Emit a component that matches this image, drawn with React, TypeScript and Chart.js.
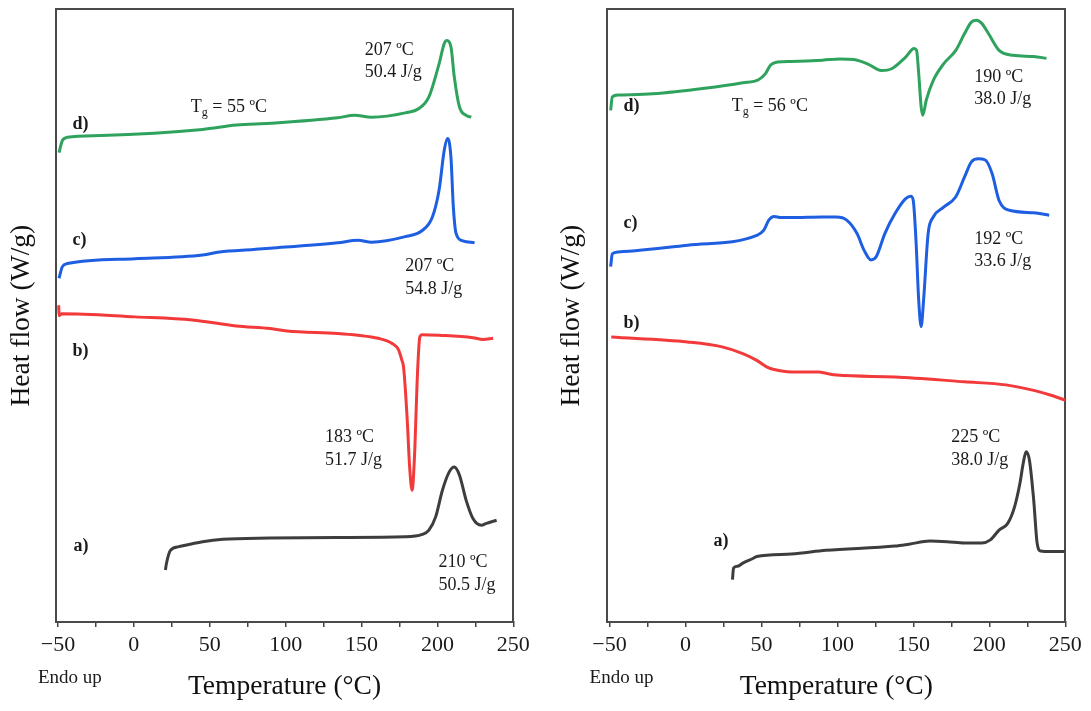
import React, { useEffect, useRef } from 'react';
import { Chart, registerables } from 'chart.js';

Chart.register(...registerables);

const SERIF = "'Liberation Serif', 'Times New Roman', serif";
const FRAME = '#4a4a4a';
const TEXT = '#1a1a1a';
const COLOR_A = '#3d3d3d';
const COLOR_B = '#f23a3a';
const COLOR_C = '#1e5fe2';
const COLOR_D = '#2fa35e';

const X_MIN = -51.5;
const X_MAX = 250;
const xTickValues = [-50, -25, 0, 25, 50, 75, 100, 125, 150, 175, 200, 225, 250];

// ---------- Left panel ----------
const leftTempA = [20.8, 21.5, 24.1, 29.7, 45.3, 58.6, 89.8, 134.3, 178.8, 190.0, 194.4, 198.9, 203.3, 207.8, 211.1, 214.5, 218.9, 223.4, 229.0, 232.3, 239.0];
const leftHeatA = [8.5, 9.6, 11.7, 12.3, 13.1, 13.5, 13.7, 13.8, 13.9, 14.3, 15.0, 17.2, 21.5, 24.5, 25.3, 24.0, 19.9, 16.9, 15.8, 16.1, 16.6];

const leftTempB = [-49.5, -49.3, -47.5, 0.8, 38.6, 67.5, 89.8, 100.9, 134.3, 147.7, 161.0, 169.9, 174.4, 176.6, 177.7, 180.0, 181.7, 183.3, 185.1, 186.6, 188.4, 190.0, 201.1, 223.4, 230.0, 236.7];
const leftHeatB = [51.7, 50.0, 50.3, 49.8, 49.3, 48.3, 47.9, 47.5, 47.1, 46.8, 46.3, 45.5, 44.4, 42.7, 41.6, 33.5, 25.3, 21.5, 28.1, 39.0, 46.5, 46.9, 46.8, 46.4, 46.1, 46.3];

const leftTempC = [-49.3, -47.1, -43.8, 0.8, 45.3, 56.4, 78.7, 89.8, 134.3, 147.7, 156.6, 178.8, 190.0, 196.7, 201.1, 204.5, 206.7, 208.9, 210.5, 212.3, 216.7, 224.5];
const leftHeatC = [56.1, 58.0, 58.5, 59.3, 59.9, 60.4, 60.8, 61.0, 61.9, 62.3, 62.0, 62.9, 63.9, 66.1, 70.5, 77.0, 78.9, 75.9, 67.7, 63.4, 62.2, 61.9];

const leftTempD = [-49.3, -47.1, -43.8, -21.5, 45.3, 67.5, 89.8, 134.3, 145.5, 156.6, 178.8, 187.8, 194.4, 201.1, 204.5, 206.2, 208.9, 211.1, 214.5, 218.9, 222.3];
const leftHeatD = [76.6, 78.6, 79.1, 79.4, 80.4, 81.1, 81.4, 82.3, 82.7, 82.4, 83.1, 83.8, 85.7, 91.1, 94.4, 94.9, 93.9, 89.0, 84.1, 82.7, 82.4];

// ---------- Right panel ----------
const rightTempA = [30.9, 31.6, 34.3, 37.7, 44.6, 46.9, 69.6, 92.4, 138.0, 147.1, 160.8, 172.2, 183.6, 195.0, 200.7, 206.4, 212.1, 216.6, 220.1, 222.3, 224.2, 226.4, 229.2, 231.5, 233.7, 240.6, 249.7];
const rightHeatA = [6.9, 8.8, 9.1, 9.6, 10.4, 10.7, 11.1, 11.7, 12.4, 12.7, 13.2, 13.1, 12.9, 12.9, 13.4, 15.0, 16.1, 18.8, 22.6, 25.9, 27.8, 26.4, 19.9, 12.8, 11.6, 11.5, 11.5];

const rightTempB = [-48.9, 1.3, 24.1, 37.7, 46.9, 53.7, 58.3, 69.6, 87.9, 92.4, 99.3, 138.0, 183.6, 210.9, 229.2, 240.6, 250];
const rightHeatB = [46.5, 45.7, 44.9, 43.8, 42.7, 41.6, 41.2, 40.8, 40.8, 40.6, 40.3, 40.0, 39.2, 38.7, 37.8, 37.0, 36.2];

const rightTempC = [-49.3, -48.2, -44.3, 1.3, 46.9, 51.4, 54.8, 58.3, 62.8, 69.6, 90.2, 99.3, 106.1, 112.9, 117.5, 122.1, 125.5, 131.2, 138.0, 144.9, 148.3, 149.9, 151.7, 153.5, 155.1, 156.7, 159.7, 163.1, 169.9, 177.9, 183.6, 188.2, 192.7, 197.3, 201.8, 206.4, 213.2, 229.2, 239.4];
const rightHeatC = [58.0, 60.1, 60.4, 61.5, 63.1, 63.9, 65.6, 66.2, 66.0, 66.0, 66.1, 66.1, 65.6, 63.4, 60.7, 59.1, 59.6, 63.4, 66.7, 69.1, 69.5, 68.8, 62.3, 52.5, 48.2, 52.5, 63.4, 66.1, 67.7, 69.4, 72.6, 75.1, 75.6, 75.4, 73.2, 68.8, 67.2, 66.8, 66.4];

const rightTempD = [-49.3, -48.2, -44.3, -21.5, 12.7, 37.7, 48.0, 52.6, 56.0, 60.5, 69.6, 90.2, 101.5, 110.7, 119.8, 128.9, 135.7, 144.9, 150.5, 152.1, 153.5, 155.1, 156.2, 158.5, 163.1, 169.9, 177.9, 183.6, 188.2, 191.6, 195.0, 199.5, 206.4, 215.5, 229.2, 237.6];
const rightHeatD = [83.5, 85.7, 86.0, 86.2, 87.1, 88.0, 88.5, 89.5, 90.9, 91.4, 91.5, 91.7, 91.9, 91.8, 91.1, 90.0, 90.3, 92.2, 93.6, 93.3, 89.5, 84.1, 82.7, 85.2, 88.4, 91.1, 93.3, 96.0, 97.9, 98.2, 97.7, 96.0, 93.3, 92.5, 92.3, 92.0];

// ---------- Annotations (data coordinates) ----------
type Note = { x: number; y: number; text: string; bold?: boolean; sub?: string };

const leftNotes: Note[] = [
  { x: 152.1, y: 93.3, text: '207 ºC' },
  { x: 152.1, y: 89.8, text: '50.4 J/g' },
  { x: 37.5, y: 84.0, text: ' = 55 ºC', sub: 'g' },
  { x: -40.4, y: 81.2, text: 'd)', bold: true },
  { x: -40.4, y: 62.3, text: 'c)', bold: true },
  { x: 178.8, y: 58.0, text: '207 ºC' },
  { x: 178.8, y: 54.3, text: '54.8 J/g' },
  { x: -40.4, y: 44.1, text: 'b)', bold: true },
  { x: 125.9, y: 30.1, text: '183 ºC' },
  { x: 125.9, y: 26.4, text: '51.7 J/g' },
  { x: -39.7, y: 12.4, text: 'a)', bold: true },
  { x: 200.7, y: 9.8, text: '210 ºC' },
  { x: 200.7, y: 6.0, text: '50.5 J/g' },
];

const rightNotes: Note[] = [
  { x: 190.0, y: 88.9, text: '190 ºC' },
  { x: 190.0, y: 85.3, text: '38.0 J/g' },
  { x: 30.4, y: 84.2, text: ' = 56 ºC', sub: 'g' },
  { x: -40.9, y: 84.2, text: 'd)', bold: true },
  { x: -40.9, y: 65.1, text: 'c)', bold: true },
  { x: 190.0, y: 62.4, text: '192 ºC' },
  { x: 190.0, y: 58.8, text: '33.6 J/g' },
  { x: -40.9, y: 48.8, text: 'b)', bold: true },
  { x: 174.9, y: 30.1, text: '225 ºC' },
  { x: 174.9, y: 26.4, text: '38.0 J/g' },
  { x: 18.4, y: 13.1, text: 'a)', bold: true },
];

type Series = { temps: number[]; heat: number[]; color: string };

const leftSeries: Series[] = [
  { temps: leftTempA, heat: leftHeatA, color: COLOR_A },
  { temps: leftTempB, heat: leftHeatB, color: COLOR_B },
  { temps: leftTempC, heat: leftHeatC, color: COLOR_C },
  { temps: leftTempD, heat: leftHeatD, color: COLOR_D },
];
const rightSeries: Series[] = [
  { temps: rightTempA, heat: rightHeatA, color: COLOR_A },
  { temps: rightTempB, heat: rightHeatB, color: COLOR_B },
  { temps: rightTempC, heat: rightHeatC, color: COLOR_C },
  { temps: rightTempD, heat: rightHeatD, color: COLOR_D },
];

function fmtTick(v: number): string {
  if (v % 50 !== 0) return '';
  return v < 0 ? '\u2212' + Math.abs(v) : String(v);
}

function makeNotesPlugin(notes: Note[]) {
  return {
    id: 'notes',
    afterDatasetsDraw(chart: any) {
      const { ctx, chartArea } = chart;
      const xs = chart.scales.x;
      const ys = chart.scales.y;
      ctx.save();
      ctx.textBaseline = 'middle';
      ctx.textAlign = 'left';
      ctx.fillStyle = TEXT;
      for (const n of notes) {
        const px = xs.getPixelForValue(n.x);
        const py = ys.getPixelForValue(n.y);
        if (n.sub) {
          ctx.font = `18px ${SERIF}`;
          ctx.fillText('T', px, py);
          let w = ctx.measureText('T').width;
          ctx.font = `12px ${SERIF}`;
          ctx.fillText(n.sub, px + w, py + 6);
          w += ctx.measureText(n.sub).width;
          ctx.font = `18px ${SERIF}`;
          ctx.fillText(n.text, px + w, py);
        } else {
          ctx.font = `${n.bold ? 'bold ' : ''}18px ${SERIF}`;
          ctx.fillText(n.text, px, py);
        }
      }
      ctx.font = `19px ${SERIF}`;
      ctx.fillText('Endo up', chartArea.left - 17.7, 678);
      ctx.restore();
    },
  };
}

type PanelProps = {
  left: number;
  width: number;
  plotLeft: number;
  plotRight: number;
  series: Series[];
  notes: Note[];
};

const HEIGHT = 711;
const PLOT_TOP = 9.3;
const PLOT_BOTTOM = 622;

function Panel({ left, width, plotLeft, plotRight, series, notes }: PanelProps) {
  const ref = useRef<HTMLCanvasElement | null>(null);
  useEffect(() => {
    if (!ref.current) return;
    const border = { display: true, color: FRAME, width: 2 };
    const chart = new Chart(ref.current, {
      type: 'line',
      data: {
        datasets: series.map((s) => ({
          data: s.temps.map((t, i) => ({ x: t, y: s.heat[i] })),
          borderColor: s.color,
          backgroundColor: s.color,
          borderWidth: 3,
          pointRadius: 0,
          fill: false,
          cubicInterpolationMode: 'monotone' as const,
          xAxisID: 'x',
          yAxisID: 'y',
        })),
      },
      options: {
        responsive: false,
        maintainAspectRatio: false,
        animation: false,
        events: [],
        layout: { padding: 0 },
        plugins: { legend: { display: false }, tooltip: { enabled: false } },
        scales: {
          x: {
            type: 'linear',
            position: 'bottom',
            min: X_MIN,
            max: X_MAX,
            afterBuildTicks: (ax: any) => {
              ax.ticks = xTickValues.map((v) => ({ value: v }));
            },
            ticks: {
              autoSkip: false,
              maxRotation: 0,
              padding: 7,
              color: TEXT,
              font: { family: SERIF, size: 22, lineHeight: 1 },
              callback: (v: any) => fmtTick(Number(v)),
            },
            grid: {
              display: true,
              drawOnChartArea: false,
              drawTicks: true,
              tickLength: 5,
              color: '#444',
              lineWidth: 1.5,
            },
            border,
            title: {
              display: true,
              text: 'Temperature (°C)',
              color: '#111',
              font: { family: SERIF, size: 27.5, lineHeight: 1 },
              padding: { top: 0, bottom: 10.25 },
            },
            afterFit: (ax: any) => {
              ax.height = HEIGHT - PLOT_BOTTOM;
            },
          },
          xTop: {
            type: 'linear',
            position: 'top',
            min: 0,
            max: 1,
            ticks: { display: false },
            grid: { display: false },
            border,
            afterFit: (ax: any) => {
              ax.height = PLOT_TOP;
            },
          },
          y: {
            type: 'linear',
            position: 'left',
            min: 0,
            max: 100,
            ticks: { display: false },
            grid: { display: false },
            border,
            title: {
              display: true,
              text: 'Heat flow (W/g)',
              color: '#111',
              font: { family: SERIF, size: 27.5, lineHeight: 1 },
              padding: { top: 8.25, bottom: 0 },
            },
            afterFit: (ax: any) => {
              ax.width = plotLeft;
            },
          },
          yRight: {
            type: 'linear',
            position: 'right',
            min: 0,
            max: 1,
            ticks: { display: false },
            grid: { display: false },
            border,
            afterFit: (ax: any) => {
              ax.width = width - plotRight;
            },
          },
        },
      } as any,
      plugins: [makeNotesPlugin(notes)],
    });
    return () => chart.destroy();
  }, []);
  return (
    <canvas
      ref={ref}
      width={width}
      height={HEIGHT}
      style={{ position: 'absolute', left, top: 0, width, height: HEIGHT }}
    />
  );
}

export default function App() {
  return (
    <div style={{ position: 'absolute', left: 0, top: 0, width: 1091, height: HEIGHT, background: '#fff' }}>
      <Panel left={0} width={550} plotLeft={55.7} plotRight={513.3} series={leftSeries} notes={leftNotes} />
      <Panel left={550} width={541} plotLeft={57.3} plotRight={515.3} series={rightSeries} notes={rightNotes} />
    </div>
  );
}
